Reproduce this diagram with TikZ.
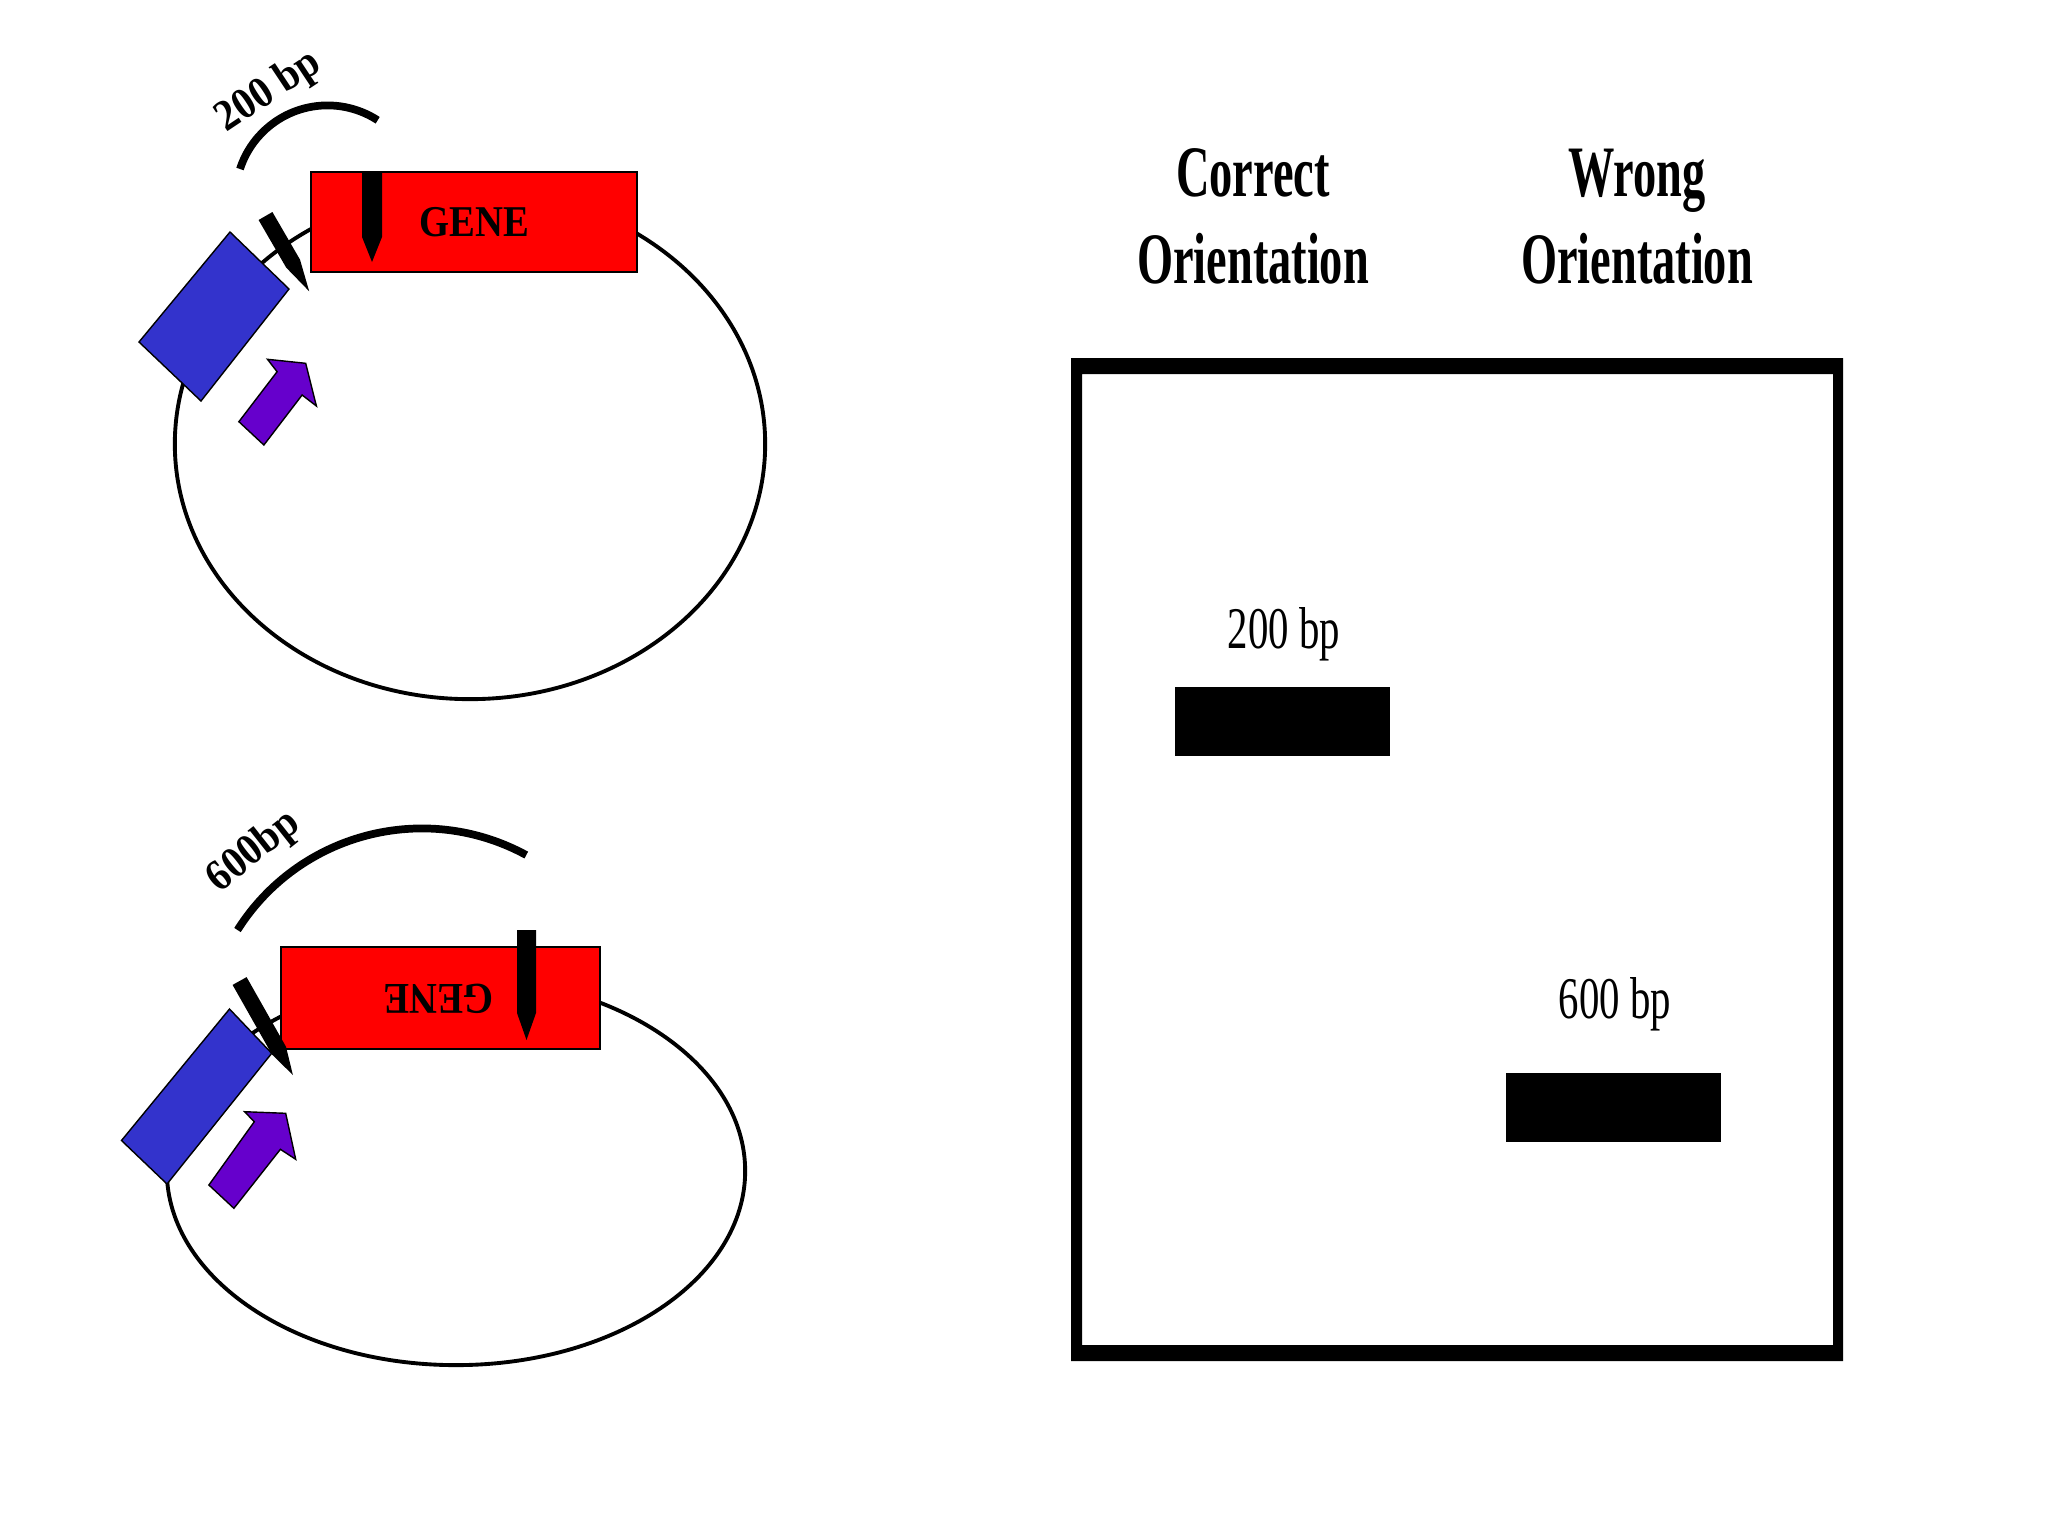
\documentclass[tikz,border=0pt]{standalone}
\usepackage{fontspec}
\setmainfont{Liberation Serif}
\definecolor{genered}{HTML}{FF0000}
\definecolor{promblue}{HTML}{3333CC}
\definecolor{arrpurple}{HTML}{6600CC}
\tikzset{
  plasmid/.style={line width=1.1pt},
  spanarc/.style={line width=2.2pt},
  genebox/.style={fill=genered, draw=black, line width=0.5pt},
  promoter/.style={fill=promblue, draw=black, line width=0.4pt},
  dirarrow/.style={fill=arrpurple, draw=black, line width=0.4pt},
  cutmark/.style={fill=black},
  gelband/.style={fill=black},
  toplab/.style={inner sep=0pt, anchor=base, font=\bfseries\fontsize{20.6}{24.75}\selectfont},
  bandlab/.style={inner sep=0pt, anchor=base, font=\fontsize{16.8}{20}\selectfont},
  arclab/.style={inner sep=0pt, font=\bfseries\fontsize{12.5}{15}\selectfont},
  genelab/.style={inner sep=0pt, font=\bfseries\fontsize{12.5}{15}\selectfont},
}
\begin{document}
\begin{tikzpicture}[x=0.01cm,y=-0.01cm]
\useasboundingbox[fill=white] (0,0) rectangle (2048,1536);

% ---------- top plasmid (correct orientation) ----------
\draw[plasmid] (470,444) ellipse [x radius=2.95cm, y radius=2.55cm];
\filldraw[genebox] (311,172) rectangle (637,272);
\filldraw[promoter] (230,232) -- (289,289) -- (201,401) -- (139,342) -- cycle;
\filldraw[dirarrow] (267.5,359.3) -- (305.7,363.3) -- (316.4,406) -- (302.1,395)
  -- (263.9,445) -- (238.9,421.7) -- (277.1,371.7) -- cycle;
\fill[cutmark] (362,172) -- (382,172) -- (382,237) -- (372,262) -- (362,237) -- cycle;
\fill[cutmark] (258.6,220) -- (272.4,212) -- (300,259.6) -- (309.2,291.3) -- (286.2,267.6) -- cycle;
\draw[spanarc] (240,169) arc[start angle=162, end angle=57, radius=0.92cm];
\node[genelab] (geneA) at (474,222.5) {\scalebox{0.88}[1]{GENE}};
\node[arclab, rotate=33.6] (span200) at (269,92) {\scalebox{0.92}[1]{200 bp}};

% ---------- bottom plasmid (wrong orientation) ----------
\draw[plasmid] (456,1171) ellipse [x radius=2.89cm, y radius=1.94cm];
\filldraw[genebox] (281,947) rectangle (600,1049);
\filldraw[promoter] (229.5,1009) -- (271.7,1053.3) -- (167,1184) -- (121.5,1140.5) -- cycle;
\filldraw[dirarrow] (244.6,1111.7) -- (285.7,1113.3) -- (295.7,1159.3) -- (280.4,1149.3)
  -- (233.9,1208.3) -- (208.9,1185) -- (254.3,1121.7) -- cycle;
\fill[cutmark] (517,930) -- (536,930) -- (536,1013) -- (526.5,1040) -- (517,1013) -- cycle;
\fill[cutmark] (232.6,984.9) -- (246.6,977.1) -- (286,1046.7) -- (292.9,1075) -- (272,1054.5) -- cycle;
\draw[spanarc] (237.5,930) arc[start angle=147.7, end angle=61.4, radius=2.18cm];
\node[genelab, rotate=180] (geneB) at (439,998.5) {\scalebox{0.88}[1]{GENE}};
\node[arclab, rotate=38.4] (span600) at (254,852) {\scalebox{0.92}[1]{600bp}};

% ---------- gel ----------
\node[toplab] (correct) at (1253,196)
  {\scalebox{0.64}[1]{\begin{tabular}[t]{@{}c@{}}Correct\\Orientation\end{tabular}}};
\node[toplab] (wrong) at (1637,196)
  {\scalebox{0.64}[1]{\begin{tabular}[t]{@{}c@{}}Wrong\\Orientation\end{tabular}}};
\fill[even odd rule] (1071,358) rectangle (1843,1361) (1082,374) rectangle (1833,1345);
\fill[gelband] (1175,687) rectangle (1390,756);
\fill[gelband] (1506,1073) rectangle (1721,1142);
\node[bandlab] (band200) at (1284,648) {\scalebox{0.69}[1]{200 bp}};
\node[bandlab] (band600) at (1615,1018) {\scalebox{0.69}[1]{600 bp}};
\end{tikzpicture}
\end{document}
